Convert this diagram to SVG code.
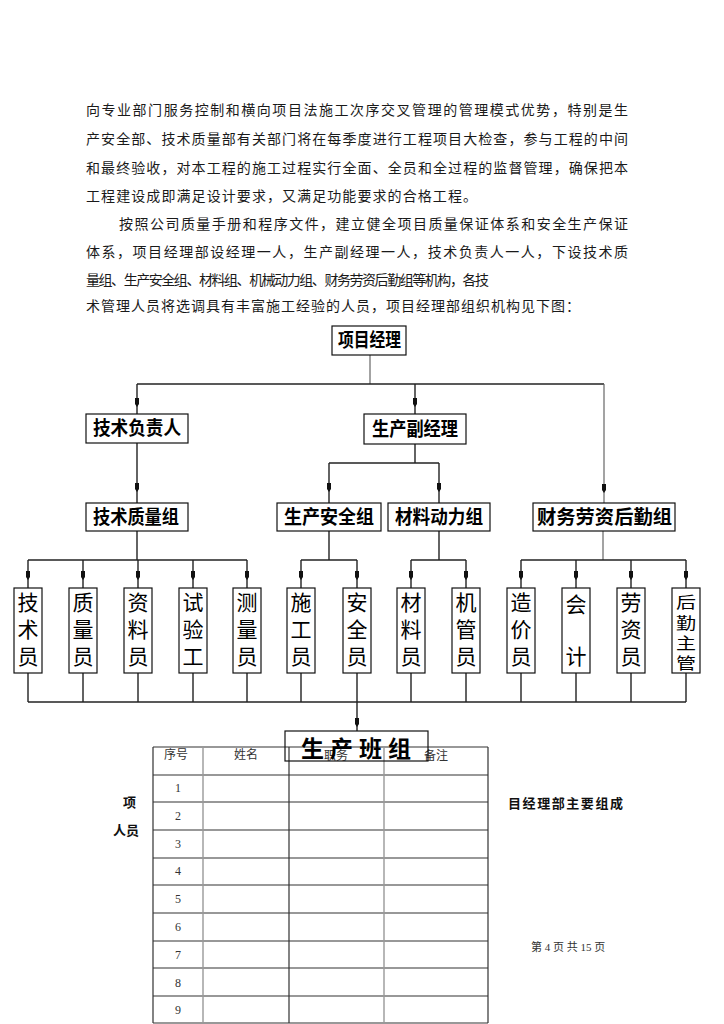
<svg xmlns="http://www.w3.org/2000/svg" width="724" height="1024" viewBox="0 0 724 1024">
<defs>
<style>
.body{font-family:"Noto Sans CJK SC","Liberation Serif",sans-serif;font-size:14px;fill:#1a1a1a}
.bx{fill:#fff;stroke:#111;stroke-width:1.2}
.bt{font-family:"Noto Sans CJK SC",sans-serif;font-size:19px;font-weight:bold;fill:#000}
.vt{font-family:"Noto Sans CJK SC",sans-serif;font-size:21px;fill:#000;text-anchor:middle}
.vs{font-family:"Noto Sans CJK SC",sans-serif;font-size:20px;fill:#000;text-anchor:middle}
.ln{fill:none;stroke:#222;stroke-width:1.4}
.lg{fill:none;stroke:#666;stroke-width:1.2}
.ar{marker-mid:url(#ah)}
.tl{stroke:#333;stroke-width:1.2}
.tg{stroke:#999;stroke-width:1.4}
.th{font-family:"Noto Sans CJK SC",sans-serif;font-size:12px;fill:#333;text-anchor:middle}
.num{font-family:"Liberation Serif",serif;font-size:12px;fill:#333;text-anchor:middle}
.side{font-family:"Noto Sans CJK SC",sans-serif;font-size:13px;font-weight:bold;fill:#111}
.pg{font-family:"Liberation Serif","Noto Sans CJK SC",serif;font-size:11px;fill:#333}
</style>
<marker id="ah" markerUnits="userSpaceOnUse" orient="auto" markerWidth="10" markerHeight="6" refX="9" refY="3" viewBox="0 0 10 6"><path d="M0,1 H6 L9,3 L6,5 H0Z" fill="#111"/></marker>
</defs>
<rect width="724" height="1024" fill="#fff"/>

<g id="paragraph">
<text class="body" x="86" y="115" textLength="542" lengthAdjust="spacing">向专业部门服务控制和横向项目法施工次序交叉管理的管理模式优势，特别是生</text>
<text class="body" x="86" y="144" textLength="542" lengthAdjust="spacing">产安全部、技术质量部有关部门将在每季度进行工程项目大检查，参与工程的中间</text>
<text class="body" x="86" y="173" textLength="542" lengthAdjust="spacing">和最终验收，对本工程的施工过程实行全面、全员和全过程的监督管理，确保把本</text>
<text class="body" x="86" y="201" textLength="391" lengthAdjust="spacing">工程建设成即满足设计要求，又满足功能要求的合格工程。</text>
<text class="body" x="119" y="229" textLength="509" lengthAdjust="spacing">按照公司质量手册和程序文件，建立健全项目质量保证体系和安全生产保证</text>
<text class="body" x="86" y="257" textLength="542" lengthAdjust="spacing">体系，项目经理部设经理一人，生产副经理一人，技术负责人一人，下设技术质</text>
<text class="body" x="86" y="285" textLength="403" lengthAdjust="spacing">量组、生产安全组、材料组、机械动力组、财务劳资后勤组等机构，各技</text>
<text class="body" x="86" y="311" textLength="494" lengthAdjust="spacing">术管理人员将选调具有丰富施工经验的人员，项目经理部组织机构见下图：</text>
</g>

<g id="connectors">
<path class="lg" d="M370 355 V384"/>
<path class="ln" d="M137 384 H604"/>
<path class="ln ar" d="M137 384 V407 V414"/>
<path class="ln ar" d="M415 384 V407 V414"/>
<path class="lg ar" d="M604 384 V493 V503"/>
<path class="ln ar" d="M137 443 V492 V503"/>
<path class="ln" d="M415 444 V463"/>
<path class="ln" d="M329 463 H439"/>
<path class="ln ar" d="M329 463 V492 V503"/>
<path class="ln ar" d="M439 463 V492 V503"/>
<path class="ln" d="M137 531 V560"/>
<path class="ln" d="M329 531 V560"/>
<path class="ln" d="M439 531 V560"/>
<path class="lg" d="M603 531 V560"/>
<path class="ln" d="M28 560 H247"/>
<path class="ln" d="M301 560 H357"/>
<path class="ln" d="M411 560 H466"/>
<path class="ln" d="M521 560 H686"/>
<path class="ln ar" d="M28 560 V580 V588"/>
<path class="ln ar" d="M83 560 V580 V588"/>
<path class="ln ar" d="M138 560 V580 V588"/>
<path class="ln ar" d="M193 560 V580 V588"/>
<path class="ln ar" d="M247 560 V580 V588"/>
<path class="ln ar" d="M301 560 V580 V588"/>
<path class="ln ar" d="M357 560 V580 V588"/>
<path class="ln ar" d="M411 560 V580 V588"/>
<path class="ln ar" d="M466 560 V580 V588"/>
<path class="ln ar" d="M521 560 V580 V588"/>
<path class="ln ar" d="M576 560 V580 V588"/>
<path class="ln ar" d="M631 560 V580 V588"/>
<path class="ln ar" d="M686 560 V580 V588"/>
<path class="ln" d="M28 673 V702 M83 673 V702 M138 673 V702 M193 673 V702 M247 673 V702 M301 673 V702 M357 673 V702 M411 673 V702 M466 673 V702 M521 673 V702 M576 673 V702 M631 673 V702 M686 673 V702"/>
<path class="ln" d="M28 702 H686"/>
<path class="ln ar" d="M357 702 V727 V731"/>
</g>

<g id="n-xmjl"><rect class="bx" x="332" y="326" width="74" height="29"/><text class="bt" x="338" y="347" textLength="63" lengthAdjust="spacingAndGlyphs">项目经理</text></g>
<g id="n-jsfzr"><rect class="bx" x="86" y="414" width="102" height="29"/><text class="bt" x="93" y="435" textLength="88" lengthAdjust="spacingAndGlyphs">技术负责人</text></g>
<g id="n-scfjl"><rect class="bx" x="364" y="414" width="102" height="30"/><text class="bt" x="372" y="436" textLength="86" lengthAdjust="spacingAndGlyphs">生产副经理</text></g>
<g id="n-jszlz"><rect class="bx" x="86" y="503" width="102" height="28"/><text class="bt" x="93" y="524" textLength="86" lengthAdjust="spacingAndGlyphs">技术质量组</text></g>
<g id="n-scaqz"><rect class="bx" x="277" y="503" width="104" height="28"/><text class="bt" x="284" y="524" textLength="90" lengthAdjust="spacingAndGlyphs">生产安全组</text></g>
<g id="n-cldlz"><rect class="bx" x="388" y="503" width="102" height="28"/><text class="bt" x="395" y="524" textLength="88" lengthAdjust="spacingAndGlyphs">材料动力组</text></g>
<g id="n-cwlz"><rect class="bx" x="533" y="503" width="142" height="28"/><text class="bt" x="537" y="524" textLength="135" lengthAdjust="spacingAndGlyphs">财务劳资后勤组</text></g>

<g id="n-jsy"><rect class="bx" x="14" y="588" width="28" height="85"/><text class="vt"><tspan x="28" y="610">技</tspan><tspan x="28" y="637">术</tspan><tspan x="28" y="664">员</tspan></text></g>
<g id="n-zly"><rect class="bx" x="69" y="588" width="28" height="85"/><text class="vt"><tspan x="83" y="610">质</tspan><tspan x="83" y="637">量</tspan><tspan x="83" y="664">员</tspan></text></g>
<g id="n-zlly"><rect class="bx" x="124" y="588" width="28" height="85"/><text class="vt"><tspan x="138" y="610">资</tspan><tspan x="138" y="637">料</tspan><tspan x="138" y="664">员</tspan></text></g>
<g id="n-syg"><rect class="bx" x="179" y="588" width="28" height="85"/><text class="vt"><tspan x="193" y="610">试</tspan><tspan x="193" y="637">验</tspan><tspan x="193" y="664">工</tspan></text></g>
<g id="n-cly"><rect class="bx" x="233" y="588" width="28" height="85"/><text class="vt"><tspan x="247" y="610">测</tspan><tspan x="247" y="637">量</tspan><tspan x="247" y="664">员</tspan></text></g>
<g id="n-sgy"><rect class="bx" x="287" y="588" width="28" height="85"/><text class="vt"><tspan x="301" y="610">施</tspan><tspan x="301" y="637">工</tspan><tspan x="301" y="664">员</tspan></text></g>
<g id="n-aqy"><rect class="bx" x="343" y="588" width="28" height="85"/><text class="vt"><tspan x="357" y="610">安</tspan><tspan x="357" y="637">全</tspan><tspan x="357" y="664">员</tspan></text></g>
<g id="n-clyy"><rect class="bx" x="397" y="588" width="28" height="85"/><text class="vt"><tspan x="411" y="610">材</tspan><tspan x="411" y="637">料</tspan><tspan x="411" y="664">员</tspan></text></g>
<g id="n-jgy"><rect class="bx" x="452" y="588" width="28" height="85"/><text class="vt"><tspan x="466" y="610">机</tspan><tspan x="466" y="637">管</tspan><tspan x="466" y="664">员</tspan></text></g>
<g id="n-zjy"><rect class="bx" x="507" y="588" width="28" height="85"/><text class="vt"><tspan x="521" y="610">造</tspan><tspan x="521" y="637">价</tspan><tspan x="521" y="664">员</tspan></text></g>
<g id="n-kj"><rect class="bx" x="562" y="588" width="28" height="85"/><text class="vt"><tspan x="576" y="612">会</tspan><tspan x="576" y="664">计</tspan></text></g>
<g id="n-lzy"><rect class="bx" x="617" y="588" width="28" height="85"/><text class="vt"><tspan x="631" y="610">劳</tspan><tspan x="631" y="637">资</tspan><tspan x="631" y="664">员</tspan></text></g>
<g id="n-hqzg"><rect class="bx" x="672" y="588" width="28" height="85"/><text class="vs" transform="translate(686 588) scale(1 0.78)"><tspan x="0" y="26">后</tspan><tspan x="0" y="52">勤</tspan><tspan x="0" y="78">主</tspan><tspan x="0" y="104">管</tspan></text></g>

<g id="table">
<path class="tl" d="M153 747 H488 M153 775 H488 M153 802 H488 M153 830 H488 M153 858 H488 M153 885 H488 M153 913 H488 M153 941 H488 M153 968 H488 M153 996 H488 M153 1023 H488"/>
<path class="tl" d="M153 747 V1023 M289 747 V1023 M488 747 V1023"/>
<path class="tg" d="M203 747 V1023 M384 747 V1023"/>
<text class="th" x="176" y="759">序号</text>
<text class="th" x="246" y="759">姓名</text>
<text class="th" x="336" y="760">职务</text>
<text class="th" x="436" y="760">备注</text>
<text class="num" x="178" y="792">1</text>
<text class="num" x="178" y="820">2</text>
<text class="num" x="178" y="848">3</text>
<text class="num" x="178" y="875">4</text>
<text class="num" x="178" y="903">5</text>
<text class="num" x="178" y="931">6</text>
<text class="num" x="178" y="959">7</text>
<text class="num" x="178" y="987">8</text>
<text class="num" x="178" y="1014">9</text>
</g>

<g id="n-scbz">
<rect x="285" y="731" width="143" height="30" fill="none" stroke="#111" stroke-width="1.2"/>
<text x="301" y="757" textLength="110" lengthAdjust="spacing" style="font-family:'Noto Sans CJK SC',sans-serif;font-size:23px;font-weight:bold;fill:#000">生产班组</text>
</g>

<g id="side-text">
<text class="side" x="123" y="807">项</text>
<text class="side" x="113" y="835">人员</text>
<text class="side" x="508" y="808" textLength="115" lengthAdjust="spacing">目经理部主要组成</text>
<text class="pg" x="531" y="951">第 4 页 共 15 页</text>
</g>
</svg>
